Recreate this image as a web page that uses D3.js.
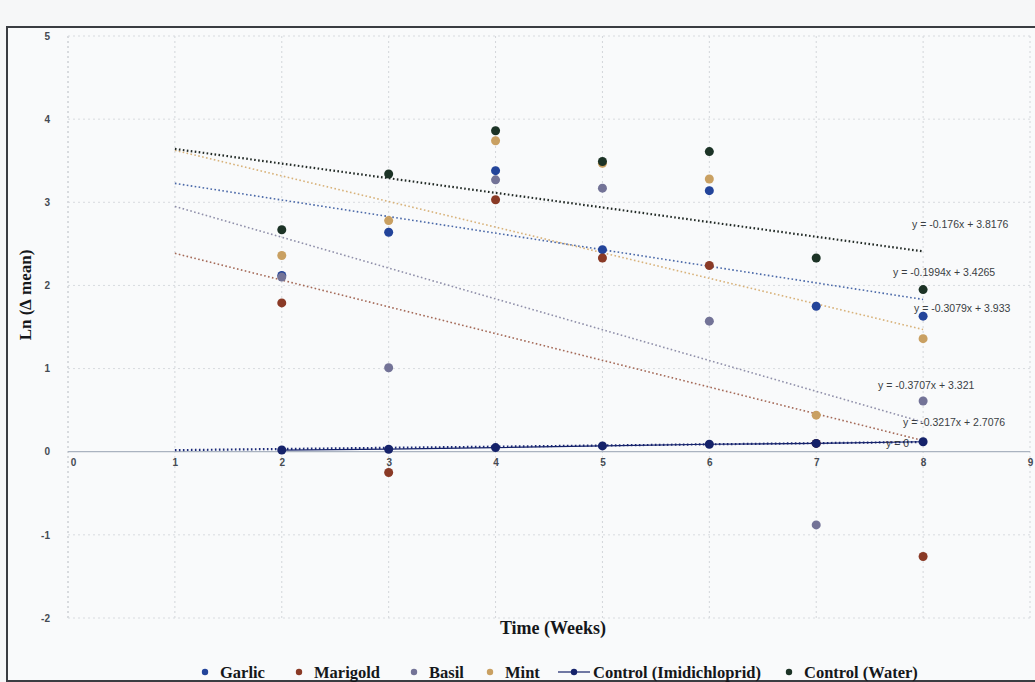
<!DOCTYPE html>
<html>
<head>
<meta charset="utf-8">
<script src="https://cdn.jsdelivr.net/npm/d3@7"></script>
<style>
  body { margin: 0; background: #f6f7f8; }
  svg { display: block; }
</style>
</head>
<body>
<div id="chart"></div>
<script>
var svgWidth = 1035;
var svgHeight = 682;

// data
var weeks = [2, 3, 4, 5, 6, 7, 8];
var seriesNames = ["Garlic", "Marigold", "Basil", "Mint", "Control (Imidichloprid)", "Control (Water)"];
var garlic = [2.12, 2.64, 3.38, 2.43, 3.14, 1.75, 1.63];
var marigold = [1.79, -0.25, 3.03, 2.33, 2.24, 0.10, -1.26];
var basil = [2.10, 1.01, 3.27, 3.17, 1.57, -0.88, 0.61];
var mint = [2.36, 2.78, 3.74, 3.47, 3.28, 0.44, 1.36];
var controlImid = [0.02, 0.03, 0.05, 0.07, 0.09, 0.10, 0.12];
var controlWater = [2.67, 3.34, 3.86, 3.49, 3.61, 2.33, 1.95];

// trendline equations as printed on the chart
var trendSlopes = [-0.1994, -0.3217, -0.3707, -0.3079, 0.014, -0.176];
var trendIntercepts = [3.4265, 2.7076, 3.321, 3.933, 0.005, 3.8176];
var trendLabels = ["y = -0.1994x + 3.4265", "y = -0.3217x + 2.7076", "y = -0.3707x + 3.321",
                   "y = -0.3079x + 3.933", "y = 0", "y = -0.176x + 3.8176"];
var trendRange = [1, 8];

var xTicks = [0, 1, 2, 3, 4, 5, 6, 7, 8, 9];
var yTicks = [-2, -1, 0, 1, 2, 3, 4, 5];

var colors = ["#23449a", "#8a3a26", "#737397", "#c9a062", "#15226a", "#1c3326"];
var trendColors = ["#4a68a8", "#a56a58", "#9090aa", "#d8b27a", "#1c2a78", "#222a26"];
// where each equation text sits (pixels)
var labelPos = [[893, 276], [903, 426], [878, 389], [914, 312], [886, 447], [912, 228]];

var allValues = [garlic, marigold, basil, mint, controlImid, controlWater];
var series = seriesNames.map(function (name, i) {
    return {
        name: name,
        color: colors[i],
        trendColor: trendColors[i],
        slope: trendSlopes[i],
        intercept: trendIntercepts[i],
        label: trendLabels[i],
        pos: labelPos[i],
        points: weeks.map(function (w, j) { return { x: w, y: allValues[i][j] }; })
    };
});

var svg = d3.select("#chart")
    .append("svg")
    .attr("width", svgWidth)
    .attr("height", svgHeight);

// outer chart frame
svg.append("rect")
    .attr("x", 7).attr("y", 27)
    .attr("width", svgWidth + 10).attr("height", 654)
    .attr("fill", "#f9fafb")
    .attr("stroke", "#3a3d42")
    .attr("stroke-width", 2);

var xScale = d3.scaleLinear().domain([0, 9]).range([68, 1030]);
var yScale = d3.scaleLinear().domain([-2, 5]).range([618, 36]);

// gridlines
var grid = svg.append("g");
grid.selectAll(".vgrid")
    .data(xTicks)
    .enter()
    .append("line")
    .attr("x1", d => xScale(d)).attr("x2", d => xScale(d))
    .attr("y1", yScale(5)).attr("y2", yScale(-2))
    .attr("stroke", d => d === 0 ? "#b8bcc2" : "#d3d6da")
    .attr("stroke-width", 1)
    .attr("stroke-dasharray", "2,3");

grid.selectAll(".hgrid")
    .data(yTicks)
    .enter()
    .append("line")
    .attr("x1", xScale(0)).attr("x2", xScale(9))
    .attr("y1", d => yScale(d)).attr("y2", d => yScale(d))
    .attr("stroke", d => d === 0 ? "#aab3c0" : "#d8dbdf")
    .attr("stroke-width", d => d === 0 ? 1.2 : 1)
    .attr("stroke-dasharray", d => d === 0 ? null : "2,3");

// axes (labels only, Excel style)
var plainNum = d => String(d);

var yAxis = d3.axisLeft(yScale).tickValues(yTicks).tickFormat(plainNum).tickSize(0).tickPadding(0);
svg.append("g")
    .attr("transform", "translate(50,0)")
    .call(yAxis)
    .call(g => g.select(".domain").remove())
    .selectAll("text")
    .attr("font-family", "Liberation Sans, Arial, sans-serif")
    .attr("font-size", 10)
    .attr("font-weight", "bold")
    .attr("fill", "#454a52");

var xAxis = d3.axisBottom(xScale).tickValues(xTicks).tickFormat(plainNum).tickSize(0).tickPadding(0);
svg.append("g")
    .attr("transform", `translate(0, ${yScale(0) + 7})`)
    .call(xAxis)
    .call(g => g.select(".domain").remove())
    .selectAll("text")
    .attr("x", d => d === 0 ? 5 : 0)
    .attr("font-family", "Liberation Sans, Arial, sans-serif")
    .attr("font-size", 10)
    .attr("font-weight", "bold")
    .attr("fill", "#454a52");

// trendlines
series.forEach(function (s, i) {
    svg.append("line")
        .attr("x1", xScale(trendRange[0]))
        .attr("y1", yScale(s.slope * trendRange[0] + s.intercept))
        .attr("x2", xScale(trendRange[1]))
        .attr("y2", yScale(s.slope * trendRange[1] + s.intercept))
        .attr("stroke", s.trendColor)
        .attr("stroke-width", i === 5 || i === 4 ? 2.2 : 1.6)
        .attr("stroke-dasharray", "1.6,2.4");
});

// control (imidichloprid) connecting line
svg.append("path")
    .datum(series[4].points)
    .attr("fill", "none")
    .attr("stroke", series[4].color)
    .attr("stroke-width", 1.2)
    .attr("d", d3.line().x(d => xScale(d.x)).y(d => yScale(d.y)));

// scatter points
series.forEach(function (s) {
    svg.append("g")
        .selectAll("circle")
        .data(s.points)
        .enter()
        .append("circle")
        .attr("cx", d => xScale(d.x))
        .attr("cy", d => yScale(d.y))
        .attr("r", 4.5)
        .attr("fill", s.color);
});

// equation labels
svg.append("g")
    .selectAll("text")
    .data(series)
    .enter()
    .append("text")
    .attr("x", d => d.pos[0])
    .attr("y", d => d.pos[1])
    .attr("font-family", "Liberation Sans, Arial, sans-serif")
    .attr("font-size", 10.5)
    .attr("fill", "#3a3e44")
    .text(d => d.label);

// axis titles
svg.append("text")
    .attr("x", 553).attr("y", 634)
    .attr("text-anchor", "middle")
    .attr("font-family", "Liberation Serif, Times New Roman, serif")
    .attr("font-weight", "bold")
    .attr("font-size", 18)
    .attr("fill", "#15171a")
    .text("Time (Weeks)");

svg.append("text")
    .attr("transform", "translate(31,295) rotate(-90)")
    .attr("text-anchor", "middle")
    .attr("font-family", "Liberation Serif, Times New Roman, serif")
    .attr("font-weight", "bold")
    .attr("font-size", 17)
    .attr("fill", "#15171a")
    .text("Ln (\u2206 mean)");

// legend
var legendX = [205, 299, 414, 490, 574, 789];
var legend = svg.append("g")
    .selectAll("g")
    .data(series)
    .enter()
    .append("g")
    .attr("transform", (d, i) => `translate(${legendX[i]}, 672)`);

legend.filter((d, i) => i === 4)
    .append("line")
    .attr("x1", -16).attr("x2", 16)
    .attr("stroke", d => d.color)
    .attr("stroke-width", 1.2);

legend.append("circle")
    .attr("r", 3.2)
    .attr("fill", d => d.color);

legend.append("text")
    .attr("x", (d, i) => i === 4 ? 19 : 15)
    .attr("dy", "0.35em")
    .attr("font-family", "Liberation Serif, Times New Roman, serif")
    .attr("font-weight", "bold")
    .attr("font-size", 16.5)
    .attr("fill", "#15171a")
    .text(d => d.name);
</script>
</body>
</html>
